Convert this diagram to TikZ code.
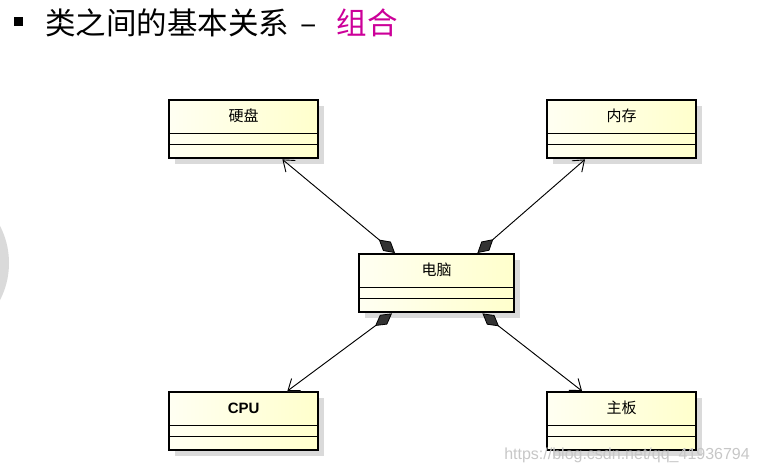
\documentclass[tikz,border=0pt]{standalone}
\usepackage{fontspec}
\newfontfamily\cjk{Noto Sans CJK SC}
\newfontfamily\lsans{Liberation Sans}
\usetikzlibrary{arrows.meta,shadows,calc}
\definecolor{ylL}{RGB}{255,255,242}
\definecolor{ylR}{RGB}{255,255,204}
\definecolor{magc}{RGB}{204,0,153}
\definecolor{shd}{RGB}{218,218,218}
\tikzset{
  cls/.style={draw=black, line width=2.4pt, minimum width=149pt, minimum height=58pt,
    inner sep=0pt, anchor=north west, left color=ylL, right color=ylR,
    drop shadow={shadow xshift=6pt, shadow yshift=-6pt, fill=shd, opacity=1},
    path picture={
      \draw[line width=1.1pt] ([yshift=-33.5pt]path picture bounding box.north west) -- ([yshift=-33.5pt]path picture bounding box.north east);
      \draw[line width=1.1pt] ([yshift=-44pt]path picture bounding box.north west) -- ([yshift=-44pt]path picture bounding box.north east);
    }},
  clab/.style={anchor=center, yshift=-17pt, font=\cjk\fontsize{15}{15}\selectfont},
  comp/.style={line width=0.9pt, black,
    {Diamond[length=21pt,width=12pt,fill=gray!40!black,line width=0.8pt]}-{Straight Barb[length=10pt,width=15pt,line width=0.9pt]}},
  compshadow/.style={line width=0.9pt, black!12, shift={(6pt,-5pt)},
    {Diamond[length=21pt,width=12pt,fill=black!12,line width=0.8pt]}-{Straight Barb[length=10pt,width=15pt,line width=0.9pt]}},
}
\begin{document}
\begin{tikzpicture}[x=1pt,y=-1pt]
\useasboundingbox (0,0) rectangle (757,473);
\clip (0,0) rectangle (757,473);
% left grey circle
\fill[shd] (-72,263) circle (81);
% title
\node[fill=black, minimum size=9pt, inner sep=0pt] (bul) at (18,22) {};
\node[anchor=west, inner sep=0pt, font=\cjk\fontsize{30.5}{30.5}\selectfont] (title) at (45,23) {类之间的基本关系\hspace{11pt}–\hspace{20pt}\textcolor{magc}{组合}};
% classes
\node[cls, label={[clab]north:硬盘}] (hd) at (168,99) {};
\node[cls, label={[clab]north:内存}] (ram) at (546,99) {};
\node[cls, minimum width=155pt, label={[clab]north:电脑}] (pc) at (358,253) {};
\node[cls, label={[clab, font=\lsans\bfseries\fontsize{15}{15}\selectfont]north:CPU}] (cpu) at (168,391) {};
\node[cls, label={[clab]north:主板}] (mb) at (546,391) {};
% connector end points
\coordinate (pA) at ([xshift=37pt]pc.north west);
\coordinate (pB) at ([xshift=-38pt]pc.north east);
\coordinate (pC) at ([xshift=34pt]pc.south west);
\coordinate (pD) at ([xshift=-33pt]pc.south east);
\coordinate (hdE) at ([xshift=-37pt]hd.south east);
\coordinate (ramE) at ([xshift=39pt]ram.south west);
\coordinate (cpuE) at ([xshift=-32pt]cpu.north east);
\coordinate (mbE) at ([xshift=36pt]mb.north west);
% shadows of connectors
\draw[compshadow] (pA) -- (hdE);
\draw[compshadow] (pB) -- (ramE);
\draw[compshadow] (pC) -- (cpuE);
\draw[compshadow] (pD) -- (mbE);
% connectors
\draw[comp] (pA) -- (hdE);
\draw[comp] (pB) -- (ramE);
\draw[comp] (pC) -- (cpuE);
\draw[comp] (pD) -- (mbE);
% watermark
\node[anchor=east, inner sep=0pt, text=black!22, font=\lsans\fontsize{16}{16}\selectfont] (wm) at (750,455) {https://blog.csdn.net/qq\_41936794};
\end{tikzpicture}
\end{document}
